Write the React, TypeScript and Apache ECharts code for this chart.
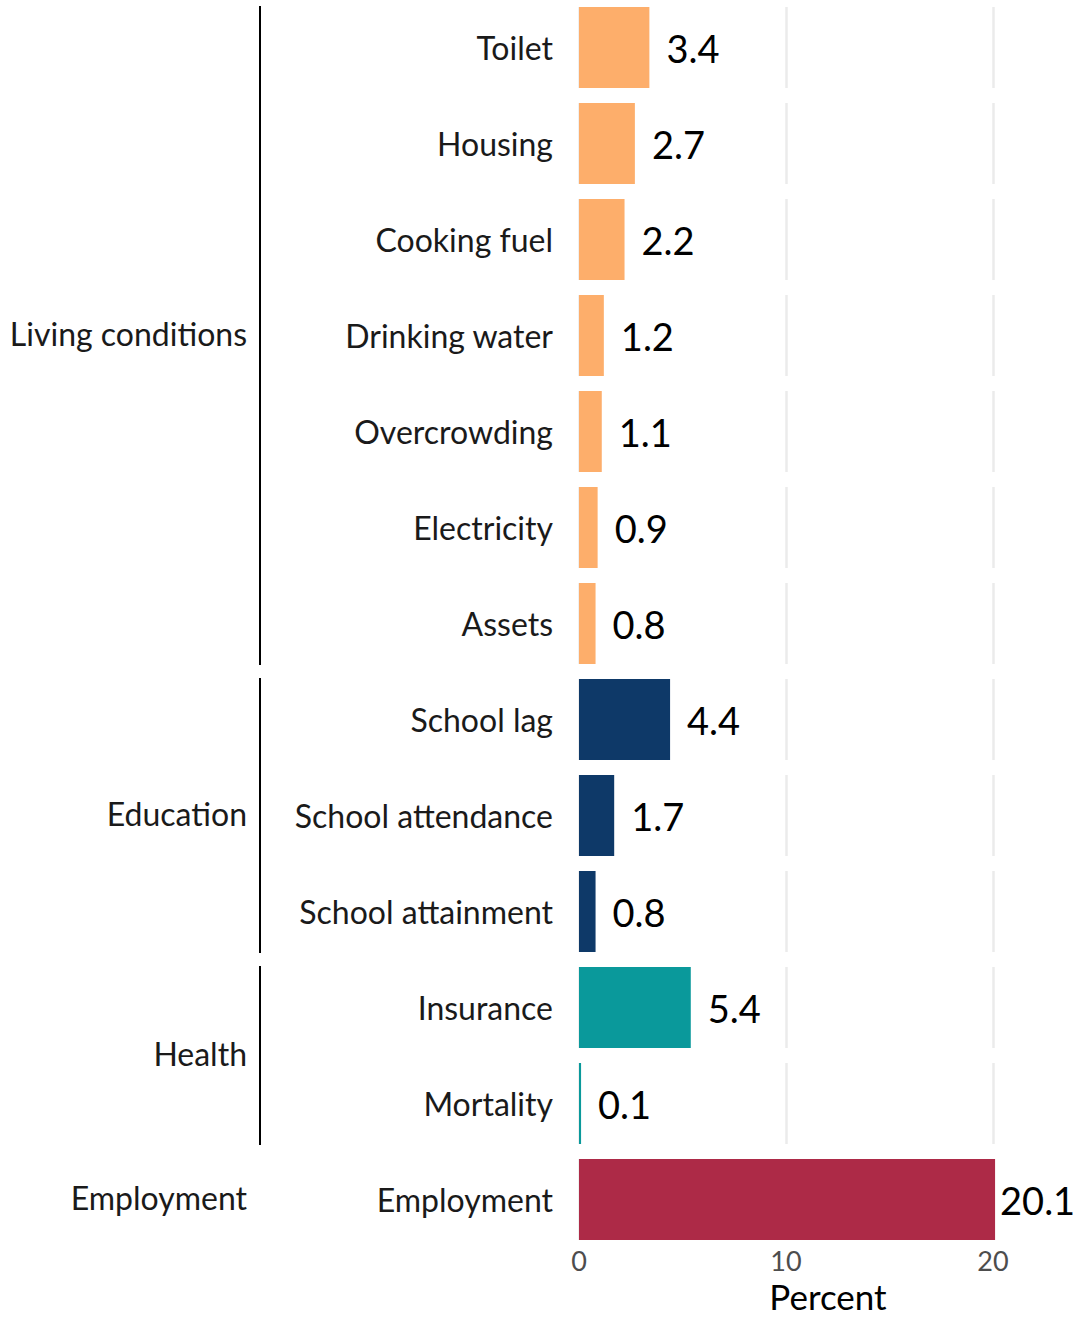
import React, { useEffect, useRef } from "react";
import * as echarts from "echarts";

const categories = [
  "Toilet", "Housing", "Cooking fuel", "Drinking water", "Overcrowding", "Electricity", "Assets",
  "School lag", "School attendance", "School attainment",
  "Insurance", "Mortality",
  "Employment",
];
const values = [3.4, 2.7, 2.2, 1.2, 1.1, 0.9, 0.8, 4.4, 1.7, 0.8, 5.4, 0.1, 20.1];
const domains = [
  "Living conditions", "Living conditions", "Living conditions", "Living conditions",
  "Living conditions", "Living conditions", "Living conditions",
  "Education", "Education", "Education",
  "Health", "Health",
  "Employment",
];
const domainOrder = ["Living conditions", "Education", "Health", "Employment"];
const domainColors = ["#FDAE6B", "#0E3968", "#0A999B", "#AD2A47"];
const xTickValues = [0, 10, 20];
const xAxisTitle = "Percent";

const FONT = "Lato, 'Open Sans', sans-serif";
const TOP = 7;
const PITCH = 96;
const PANEL_H = 81;
const LEFT = 579;
const PANEL_W = 414;

export default function App() {
  const ref = useRef<HTMLDivElement>(null);
  useEffect(() => {
    document.body.style.margin = "0";
    if (!ref.current) return;
    const chart = echarts.init(ref.current, undefined, { renderer: "svg" });
    const n = categories.length;
    const grids: any[] = [];
    const xAxes: any[] = [];
    const yAxes: any[] = [];
    const series: any[] = [];
    const last = n - 1;
    for (let i = 0; i < n; i++) {
      grids.push({ left: LEFT, top: TOP + i * PITCH, width: PANEL_W, height: PANEL_H, containLabel: false });
      xAxes.push({
        gridIndex: i,
        type: "value",
        min: xTickValues[0],
        max: xTickValues[xTickValues.length - 1],
        interval: xTickValues[1] - xTickValues[0],
        axisLine: { show: false },
        axisTick: { show: false },
        splitLine: { show: true, lineStyle: { color: "#EBEBEB", width: 2.5 } },
        axisLabel: {
          show: i === last,
          fontFamily: FONT,
          fontSize: 27,
          color: "#4D4D4D",
          margin: 7,
        },
      });
      yAxes.push({
        gridIndex: i,
        type: "category",
        data: [categories[i]],
        axisLine: { show: false },
        axisTick: { show: false },
        splitLine: { show: false },
        axisLabel: { fontFamily: FONT, fontSize: 32, color: "#1A1A1A", margin: 26, padding: [0, 0, 3, 0] },
      });
      const color = domainColors[domainOrder.indexOf(domains[i])];
      series.push({
        type: "bar",
        xAxisIndex: i,
        yAxisIndex: i,
        clip: false,
        barWidth: "100%",
        itemStyle: { color },
        data: [values[i]],
        label: {
          show: true,
          position: "right",
          distance: i === last ? 5 : 17,
          fontFamily: FONT,
          fontSize: 38,
          color: "#000000",
          formatter: (p: any) => Number(p.value).toFixed(1),
        },
      });
    }
    const graphics: any[] = [];
    domainOrder.forEach((d) => {
      const idx = domains.map((x, k) => (x === d ? k : -1)).filter((k) => k >= 0);
      const first = idx[0];
      const lastIdx = idx[idx.length - 1];
      const y0 = TOP + first * PITCH;
      const y1 = TOP + lastIdx * PITCH + PANEL_H;
      graphics.push({
        type: "text",
        x: 247,
        y: (y0 + y1) / 2 - 2,
        style: {
          text: d,
          fontFamily: FONT,
          fontSize: 32,
          fill: "#1A1A1A",
          align: "right",
          verticalAlign: "middle",
        },
      });
      if (idx.length > 1) {
        graphics.push({
          type: "line",
          shape: { x1: 260, y1: y0 - 1, x2: 260, y2: y1 + 1 },
          style: { stroke: "#000000", lineWidth: 2 },
        });
      }
    });
    graphics.push({
      type: "text",
      x: 828,
      y: 1296,
      style: {
        text: xAxisTitle,
        fontFamily: FONT,
        fontSize: 35,
        fill: "#000000",
        align: "center",
        verticalAlign: "middle",
      },
    });
    chart.setOption({
      animation: false,
      backgroundColor: "#FFFFFF",
      grid: grids,
      xAxis: xAxes,
      yAxis: yAxes,
      series,
      graphic: graphics,
    });
    return () => chart.dispose();
  }, []);
  return <div ref={ref} style={{ width: 1077, height: 1319 }} />;
}
